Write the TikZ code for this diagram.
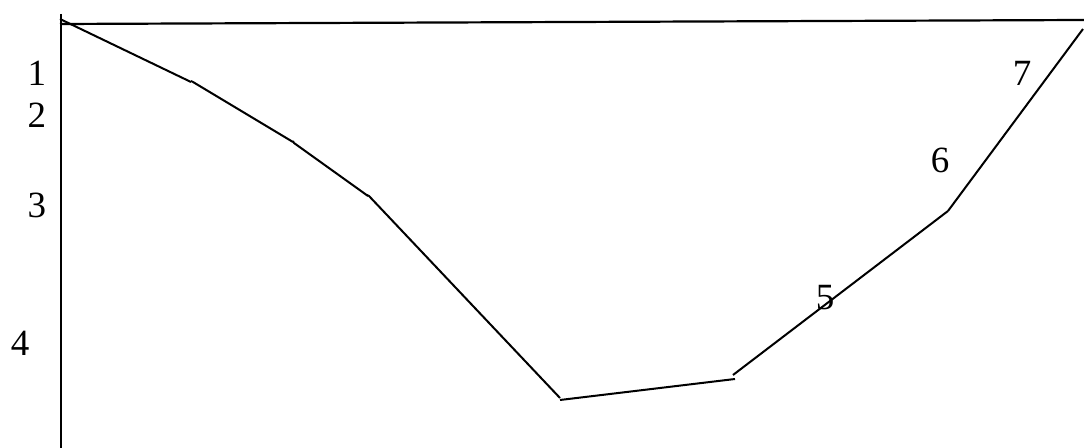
\documentclass[tikz,border=0pt]{standalone}
\usepackage{fontspec}
\setmainfont{Liberation Serif}
\usepackage{tikz}
\usetikzlibrary{calc}
\tikzset{
  profile/.style={line width=1pt, black},
  axisline/.style={line width=1.1pt, black},
  depthlabel/.style={font=\fontsize{18.5}{21}\selectfont, inner sep=0pt},
}

\begin{document}
\begin{tikzpicture}[x=0.5pt, y=-0.5pt]
\useasboundingbox (0,0) rectangle (1084,448);
% axis and water line
\coordinate (axtop) at (61,14);
\coordinate (axbot) at (61,448);
\coordinate (wl) at (60,24);
\coordinate (wr) at (1084,20);
\draw[axisline] (axtop) -- (axbot);
\draw[axisline] (wl) -- (wr);
% bed points
\coordinate (p0) at (60,19);
\coordinate (p1) at (191,82);
\coordinate (p2) at (293,142);
\coordinate (p3) at (368,196);
\coordinate (p4) at (560,398);
\coordinate (p5) at (735,379);
\coordinate (p6) at (948,211);
\coordinate (p7) at (1083,29);
\draw[profile] (p0) -- (p1);
\draw[profile] ($(p1)+(0,-1)$) -- ++(2,1) -- (p2);
\draw[profile] ($(p2)+(0,-1)$) -- ++(1,2) -- (p3);
\draw[profile] ($(p3)+(-1,-1)$) -- ++(2,1) -- (p4);
\draw[profile] ($(p4)+(0,2)$) -- (p5);
\draw[profile] ($(p5)+(-2,-4)$) -- (p6);
\draw[profile] (p6) -- (p7);
% labels
\node[depthlabel] (l1) at (37,73) {1};
\node[depthlabel] (l2) at (37,115) {2};
\node[depthlabel] (l3) at (37,205) {3};
\node[depthlabel] (l4) at (20,343) {4};
\node[depthlabel] (l5) at (825,298) {5};
\node[depthlabel] (l6) at (940,160) {6};
\node[depthlabel] (l7) at (1022,73) {7};
\end{tikzpicture}
\end{document}
